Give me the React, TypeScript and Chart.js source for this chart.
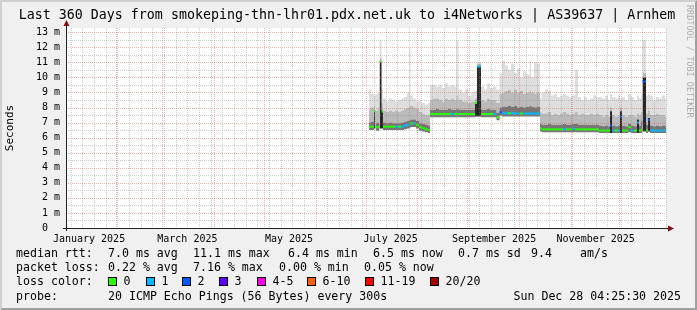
import React, { useEffect, useRef } from 'react';
import { Chart, registerables } from 'chart.js';

Chart.register(...registerables);

const MONO = '"DejaVu Sans Mono", "Liberation Mono", monospace';

// ---- axis definitions (day of year 2025, 0 = Jan 1 00:00) ----
const START_DAY = 1.184;
const END_DAY = 361.184;
const Y_MAX = 13.28;
const yTickValues = [0, 1, 2, 3, 4, 5, 6, 7, 8, 9, 10, 11, 12, 13];
const yTickLabels = ['0  ', '1 m', '2 m', '3 m', '4 m', '5 m', '6 m', '7 m', '8 m', '9 m', '10 m', '11 m', '12 m', '13 m'];
const xLabelDays = [15, 74, 135, 196, 258, 319];
const xLabels = ['January 2025', 'March 2025', 'May 2025', 'July 2025', 'September 2025', 'November 2025'];
const monthStartDays = [31, 59, 90, 120, 151, 181, 212, 243, 273, 304, 334];
const firstSunday = 4;

// ---- data ----
const days = [
  183.0, 184.2, 186.0, 186.9, 188.1, 189.3, 190.5, 191.4, 193.2, 195.0, 196.8, 198.6, 200.4, 202.2, 204.0, 205.8,
  207.3, 207.9, 209.4, 211.2, 213.0, 214.8, 216.6, 218.4, 219.6, 221.4, 223.2, 225.0, 226.8, 228.6, 230.4, 232.2,
  234.0, 235.5, 236.7, 238.8, 240.6, 242.4, 244.2, 246.6, 247.8, 250.2, 252.0, 253.8, 255.6, 257.4, 259.5, 261.3,
  262.8, 264.6, 266.4, 268.2, 270.0, 271.8, 273.6, 275.4, 277.2, 279.3, 280.2, 282.0, 283.8, 285.6, 286.5, 288.6,
  290.4, 292.2, 294.0, 295.8, 297.6, 299.4, 301.2, 303.0, 304.8, 306.6, 308.4, 310.2, 312.0, 313.8, 315.6, 317.4,
  319.2, 321.0, 322.8, 324.6, 326.4, 327.6, 328.8, 330.6, 332.4, 333.6, 334.8, 336.6, 338.4, 340.2, 342.0, 343.8,
  345.0, 346.2, 347.1, 349.2, 350.4, 351.6, 353.4, 355.2, 357.0, 358.8, 360.6,
];
const median = [
  6.73, 6.73, 7.75, 6.69, 6.69, 11.05, 7.73, 6.73, 6.73, 6.73, 6.73, 6.73, 6.73, 6.73, 6.80, 6.85,
  6.90, 6.95, 6.95, 6.85, 6.70, 6.62, 6.55, 6.50, 7.57, 7.57, 7.57, 7.57, 7.57, 7.57, 7.57, 7.57,
  7.57, 7.57, 7.57, 7.57, 7.57, 7.57, 7.57, 8.30, 10.72, 7.57, 7.57, 7.57, 7.57, 7.57, 7.35, 7.70,
  7.62, 7.62, 7.62, 7.62, 7.62, 7.60, 7.60, 7.60, 7.60, 7.60, 7.60, 7.60, 7.60, 6.62, 6.55, 6.55,
  6.55, 6.55, 6.55, 6.55, 6.55, 6.55, 6.55, 6.55, 6.60, 6.55, 6.55, 6.55, 6.55, 6.55, 6.55, 6.55,
  6.55, 6.47, 6.47, 6.47, 6.47, 6.80, 6.47, 6.47, 6.47, 7.38, 6.47, 6.47, 6.69, 6.47, 6.47, 7.00,
  6.47, 6.50, 9.72, 6.47, 7.18, 6.47, 6.47, 6.47, 6.47, 6.47, 6.47,
];
const smokeLow = [
  6.50, 6.50, 6.60, 6.45, 6.45, 6.60, 6.60, 6.50, 6.50, 6.50, 6.50, 6.50, 6.50, 6.50, 6.55, 6.60,
  6.65, 6.70, 6.70, 6.60, 6.45, 6.40, 6.35, 6.30, 7.35, 7.35, 7.35, 7.35, 7.35, 7.35, 7.35, 7.35,
  7.35, 7.35, 7.35, 7.35, 7.35, 7.35, 7.35, 7.40, 7.40, 7.35, 7.35, 7.35, 7.35, 7.35, 7.15, 7.45,
  7.40, 7.40, 7.40, 7.40, 7.40, 7.40, 7.40, 7.40, 7.40, 7.40, 7.40, 7.40, 7.40, 6.40, 6.35, 6.35,
  6.35, 6.35, 6.35, 6.35, 6.35, 6.35, 6.35, 6.35, 6.35, 6.35, 6.35, 6.35, 6.35, 6.35, 6.35, 6.35,
  6.35, 6.30, 6.30, 6.30, 6.30, 6.30, 6.30, 6.30, 6.30, 6.30, 6.30, 6.30, 6.35, 6.30, 6.30, 6.30,
  6.30, 6.30, 6.40, 6.30, 6.40, 6.30, 6.30, 6.30, 6.30, 6.30, 6.30,
];
const smokeMid = [
  7.00, 7.05, 7.80, 6.95, 7.00, 11.05, 7.80, 7.00, 6.95, 7.00, 6.95, 6.95, 6.95, 7.00, 7.05, 7.10,
  7.15, 7.20, 7.20, 7.10, 6.95, 6.90, 6.85, 6.80, 7.85, 7.85, 7.90, 7.85, 7.85, 7.85, 7.90, 7.85,
  7.85, 7.90, 7.85, 7.85, 7.85, 7.85, 7.85, 8.30, 10.72, 7.85, 7.85, 7.90, 7.85, 7.85, 7.65, 8.00,
  8.05, 8.05, 8.10, 8.05, 8.10, 8.00, 8.05, 8.00, 8.05, 8.10, 8.05, 8.00, 8.05, 6.95, 6.85, 6.85,
  6.90, 6.85, 6.85, 6.85, 6.85, 6.90, 6.85, 6.85, 6.90, 6.90, 6.85, 6.85, 6.85, 6.85, 6.85, 6.85,
  6.85, 6.80, 6.75, 6.80, 6.75, 7.75, 6.80, 6.75, 6.80, 7.75, 6.80, 6.75, 6.90, 6.80, 6.75, 7.20,
  6.80, 7.10, 10.00, 6.85, 7.30, 6.80, 6.75, 6.80, 6.75, 6.80, 6.75,
];
const smokeHigh = [
  7.90, 8.00, 8.10, 7.80, 8.00, 11.30, 8.30, 7.80, 7.70, 7.80, 7.70, 7.80, 7.70, 7.80, 7.90, 8.00,
  8.10, 8.10, 8.00, 7.90, 7.70, 7.60, 7.50, 7.50, 8.50, 8.60, 8.60, 8.50, 8.40, 8.60, 8.50, 8.60,
  8.50, 8.80, 8.50, 8.40, 8.40, 8.30, 8.40, 8.60, 10.90, 8.50, 8.40, 8.60, 8.50, 8.50, 8.30, 8.90,
  9.00, 9.10, 9.20, 9.00, 9.20, 9.00, 9.10, 8.90, 9.00, 9.10, 9.00, 8.90, 9.00, 7.70, 7.60, 7.60,
  7.70, 7.50, 7.60, 7.50, 7.60, 7.70, 7.60, 7.50, 7.60, 7.70, 7.50, 7.60, 7.50, 7.50, 7.60, 7.50,
  7.60, 7.50, 7.40, 7.50, 7.40, 8.00, 7.50, 7.40, 7.50, 8.00, 7.50, 7.40, 7.50, 7.50, 7.40, 7.60,
  7.50, 7.70, 10.30, 7.60, 7.80, 7.50, 7.50, 7.60, 7.50, 7.50, 7.40,
];
const smokeMax = [
  9.20, 8.90, 8.80, 8.90, 9.00, 12.50, 9.30, 8.60, 8.40, 8.60, 8.50, 8.40, 8.50, 8.60, 8.70, 9.00,
  11.90, 8.80, 8.60, 8.40, 8.40, 8.30, 8.20, 8.30, 9.50, 9.50, 9.40, 9.50, 9.30, 9.60, 9.40, 9.50,
  9.40, 12.50, 9.20, 9.00, 9.20, 8.80, 9.00, 9.10, 11.00, 9.40, 9.20, 9.60, 9.30, 9.40, 9.20, 10.30,
  11.10, 10.80, 10.50, 10.90, 10.30, 10.60, 10.00, 10.40, 10.20, 11.10, 10.00, 11.00, 10.90, 8.60, 9.00, 9.20,
  9.10, 8.80, 8.90, 8.70, 8.80, 8.90, 8.80, 8.70, 8.80, 10.50, 8.70, 8.50, 8.70, 8.50, 8.60, 8.80,
  8.70, 8.70, 8.60, 8.80, 8.50, 8.90, 8.70, 8.60, 8.80, 8.60, 8.70, 8.50, 8.90, 8.70, 8.50, 8.80,
  8.60, 8.90, 12.50, 8.80, 8.90, 8.80, 8.50, 8.70, 8.60, 8.80, 8.60,
];
const lossLevel = [
  0, 0, 0, 0, 0, 0, 0, 0, 0, 0, 0, 1, 0, 1, 1, 1,
  1, 0, 1, 0, 0, 0, 0, 0, 0, 0, 0, 0, 0, 0, 0, 1,
  0, 0, 0, 0, 0, 0, 0, 0, 1, 0, 0, 0, 0, 1, 0, 2,
  1, 1, 0, 1, 1, 1, 0, 1, 1, 1, 1, 1, 1, 0, 0, 0,
  0, 0, 0, 0, 0, 1, 0, 0, 1, 0, 0, 0, 0, 0, 0, 0,
  0, 0, 0, 0, 0, 2, 1, 0, 1, 2, 0, 0, 0, 1, 0, 1,
  0, 0, 2, 0, 2, 1, 1, 1, 1, 1, 1,
];

// ---- legend ----
const lossColors = ['#26ff00', '#00b8ff', '#0059ff', '#5e00ff', '#ff00ea', '#ff5e00', '#ff0000', '#a10000'];
const lossLabels = ['0', '1', '2', '3', '4-5', '6-10', '11-19', '20/20'];
const titleText = 'Last 360 Days from smokeping-thn-lhr01.pdx.net.uk to i4Networks | AS39637 | Arnhem';
const medianStats = ['7.0 ms avg', '11.1 ms max', '6.4 ms min', '6.5 ms now', '0.7 ms sd', '9.4', 'am/s'];
const lossStats = ['0.22 % avg', '7.16 % max', '0.00 % min', '0.05 % now'];
const probeText = '20 ICMP Echo Pings (56 Bytes) every 300s';
const dateText = 'Sun Dec 28 04:25:30 2025';

const stepPoints = (arr: number[]) =>
  days.map((d, i) => ({ x: d, y: arr[i] })).concat([{ x: END_DAY, y: arr[arr.length - 1] }]);

const medianPoints = () => {
  const pts: { x: number; y: number | null }[] = [];
  days.forEach((d, i) => {
    const e = i + 1 < days.length ? days[i + 1] : END_DAY;
    pts.push({ x: d, y: median[i] }, { x: e, y: median[i] }, { x: e, y: null });
  });
  return pts;
};

// dense (spike) steps are drawn almost black, as smokeping does
const darkFill = (ctx: any) => {
  const i = ctx.p0DataIndex;
  if (i < days.length && smokeMid[i] - smokeLow[i] > 0.8) return '#262626';
  return '#767676';
};

const rrdPlugin = {
  id: 'rrdLook',
  beforeDraw(chart: any) {
    const { ctx, width, height, chartArea } = chart;
    ctx.save();
    ctx.fillStyle = '#f0f0f0';
    ctx.fillRect(0, 0, width, height);
    ctx.fillStyle = '#d0d0d0';
    ctx.beginPath();
    ctx.moveTo(0, 0); ctx.lineTo(width, 0); ctx.lineTo(width - 2, 2); ctx.lineTo(2, 2);
    ctx.lineTo(2, height - 2); ctx.lineTo(0, height); ctx.closePath(); ctx.fill();
    ctx.fillStyle = '#a0a0a0';
    ctx.beginPath();
    ctx.moveTo(width, 0); ctx.lineTo(width, height); ctx.lineTo(0, height); ctx.lineTo(2, height - 2);
    ctx.lineTo(width - 2, height - 2); ctx.lineTo(width - 2, 2); ctx.closePath(); ctx.fill();
    ctx.fillStyle = '#ffffff';
    ctx.fillRect(chartArea.left, chartArea.top, chartArea.right - chartArea.left, chartArea.bottom - chartArea.top);
    ctx.restore();
  },
  afterDatasetsDraw(chart: any) {
    const { ctx, chartArea } = chart;
    const { left, right, top, bottom } = chartArea;
    const xs = chart.scales.x;
    const ys = chart.scales.y;
    ctx.save();
    ctx.lineWidth = 1;
    ctx.setLineDash([1, 1]);
    const hline = (v: number) => {
      const y = Math.round(ys.getPixelForValue(v)) + 0.5;
      ctx.beginPath(); ctx.moveTo(left, y); ctx.lineTo(right, y); ctx.stroke();
    };
    const vline = (d: number) => {
      const x = Math.round(xs.getPixelForValue(d)) + 0.5;
      ctx.beginPath(); ctx.moveTo(x, top); ctx.lineTo(x, bottom); ctx.stroke();
    };
    ctx.strokeStyle = 'rgba(144,144,144,0.45)';
    for (let v = 0.5; v < Y_MAX; v += 1) hline(v);
    for (let d = firstSunday; d < END_DAY; d += 7) {
      if (!monthStartDays.includes(d)) vline(d);
    }
    ctx.strokeStyle = 'rgba(224,80,80,0.45)';
    yTickValues.forEach((v) => { if (v > 0) hline(v); });
    monthStartDays.forEach((d) => vline(d));
    ctx.setLineDash([]);
    const ax = Math.round(left) + 0.5;
    const ay = Math.round(bottom) + 0.5;
    ctx.strokeStyle = '#202020';
    ctx.beginPath(); ctx.moveTo(left - 3, ay); ctx.lineTo(right + 3, ay); ctx.stroke();
    ctx.beginPath(); ctx.moveTo(ax, bottom + 3); ctx.lineTo(ax, top - 3); ctx.stroke();
    ctx.fillStyle = '#801010';
    ctx.beginPath(); ctx.moveTo(ax - 3, top - 2); ctx.lineTo(ax + 3, top - 2); ctx.lineTo(ax, top - 8); ctx.closePath(); ctx.fill();
    ctx.beginPath(); ctx.moveTo(right + 2, ay - 3); ctx.lineTo(right + 2, ay + 3); ctx.lineTo(right + 8, ay); ctx.closePath(); ctx.fill();
    ctx.restore();
  },
  afterDraw(chart: any) {
    const { ctx } = chart;
    ctx.save();
    ctx.fillStyle = '#000000';
    ctx.textBaseline = 'middle';
    ctx.font = `13.3px ${MONO}`;
    ctx.textAlign = 'center';
    ctx.fillText(titleText, 347, 16);
    ctx.save();
    ctx.font = `11px ${MONO}`;
    ctx.translate(10, 128);
    ctx.rotate(-Math.PI / 2);
    ctx.fillText('Seconds', 0, 0);
    ctx.restore();
    ctx.save();
    ctx.font = `8.5px ${MONO}`;
    ctx.fillStyle = 'rgba(0,0,0,0.3)';
    ctx.translate(689, 5);
    ctx.rotate(Math.PI / 2);
    ctx.textAlign = 'left';
    ctx.fillText('RRDTOOL / TOBI OETIKER', 0, 0);
    ctx.restore();
    ctx.font = `11.6px ${MONO}`;
    ctx.textAlign = 'left';
    const l1 = 254, l2 = 268, l3 = 282, l4 = 297;
    ctx.fillText('median rtt:', 16, l1);
    const mx = [108, 193, 288, 373, 458, 531, 580];
    medianStats.forEach((t, i) => ctx.fillText(t, mx[i], l1));
    ctx.fillText('packet loss:', 16, l2);
    const px = [108, 193, 279, 364];
    lossStats.forEach((t, i) => ctx.fillText(t, px[i], l2));
    ctx.fillText('loss color:', 16, l3);
    const bx = [108, 146, 182, 219, 257, 307, 365, 430];
    lossColors.forEach((c, i) => {
      ctx.fillStyle = c;
      ctx.fillRect(bx[i], l3 - 5, 9, 9);
      ctx.strokeStyle = '#000';
      ctx.lineWidth = 1;
      ctx.strokeRect(bx[i] + 0.5, l3 - 4.5, 8, 8);
      ctx.fillStyle = '#000';
      ctx.fillText(lossLabels[i], bx[i] + 15.5, l3);
    });
    ctx.fillText('probe:', 16, l4);
    ctx.fillText(probeText, 108, l4);
    ctx.textAlign = 'right';
    ctx.fillText(dateText, 681, l4);
    ctx.restore();
  },
};

export default function App() {
  const ref = useRef<HTMLCanvasElement>(null);
  useEffect(() => {
    const canvas = ref.current;
    if (!canvas) return;
    const common = { stepped: true, pointRadius: 0, borderWidth: 0, order: 1 } as any;
    const chart = new Chart(canvas, {
      type: 'line',
      data: {
        datasets: [
          { ...common, label: 'low', data: stepPoints(smokeLow), fill: false, borderColor: 'rgba(0,0,0,0)' },
          {
            ...common, label: 'mid', data: stepPoints(smokeMid), fill: '-1', backgroundColor: '#767676',
            borderColor: 'rgba(0,0,0,0)', segment: { backgroundColor: darkFill },
          },
          { ...common, label: 'high', data: stepPoints(smokeHigh), fill: '-1', backgroundColor: '#bababa', borderColor: 'rgba(0,0,0,0)' },
          { ...common, label: 'max', data: stepPoints(smokeMax), fill: '-1', backgroundColor: '#dedede', borderColor: 'rgba(0,0,0,0)' },
          {
            label: 'median rtt',
            data: medianPoints(),
            fill: false,
            pointRadius: 0,
            borderWidth: 2,
            order: 0,
            spanGaps: false,
            borderColor: lossColors[0],
            segment: {
              borderColor: (ctx: any) => lossColors[lossLevel[Math.floor(ctx.p0DataIndex / 3)]],
            },
          } as any,
        ],
      },
      options: {
        animation: false,
        responsive: false,
        devicePixelRatio: 1,
        events: [],
        layout: { padding: { left: 0, top: 28, right: 31, bottom: 0 } },
        plugins: { legend: { display: false }, tooltip: { enabled: false }, title: { display: false } },
        scales: {
          x: {
            type: 'linear',
            min: START_DAY,
            max: END_DAY,
            grid: { display: false, drawTicks: false },
            border: { display: false },
            afterFit: (s: any) => { s.height = 82; },
            afterBuildTicks: (s: any) => { s.ticks = xLabelDays.map((v) => ({ value: v })); },
            ticks: {
              autoSkip: false,
              maxRotation: 0,
              padding: 5,
              color: '#000',
              font: { family: MONO, size: 10 },
              callback: (v: any) => xLabels[xLabelDays.indexOf(Number(v))] ?? '',
            },
          },
          y: {
            type: 'linear',
            min: 0,
            max: Y_MAX,
            grid: { display: false, drawTicks: false },
            border: { display: false },
            afterFit: (s: any) => { s.width = 66; },
            afterBuildTicks: (s: any) => { s.ticks = yTickValues.map((v) => ({ value: v })); },
            ticks: {
              autoSkip: false,
              padding: 6,
              color: '#000',
              font: { family: MONO, size: 10 },
              callback: (v: any) => yTickLabels[yTickValues.indexOf(Number(v))] ?? '',
            },
          },
        },
      },
      plugins: [rrdPlugin],
    } as any);
    return () => chart.destroy();
  }, []);
  return (
    <div style={{ position: 'absolute', left: 0, top: 0, width: 697, height: 310 }}>
      <canvas ref={ref} width={697} height={310} style={{ display: 'block' }} />
    </div>
  );
}
